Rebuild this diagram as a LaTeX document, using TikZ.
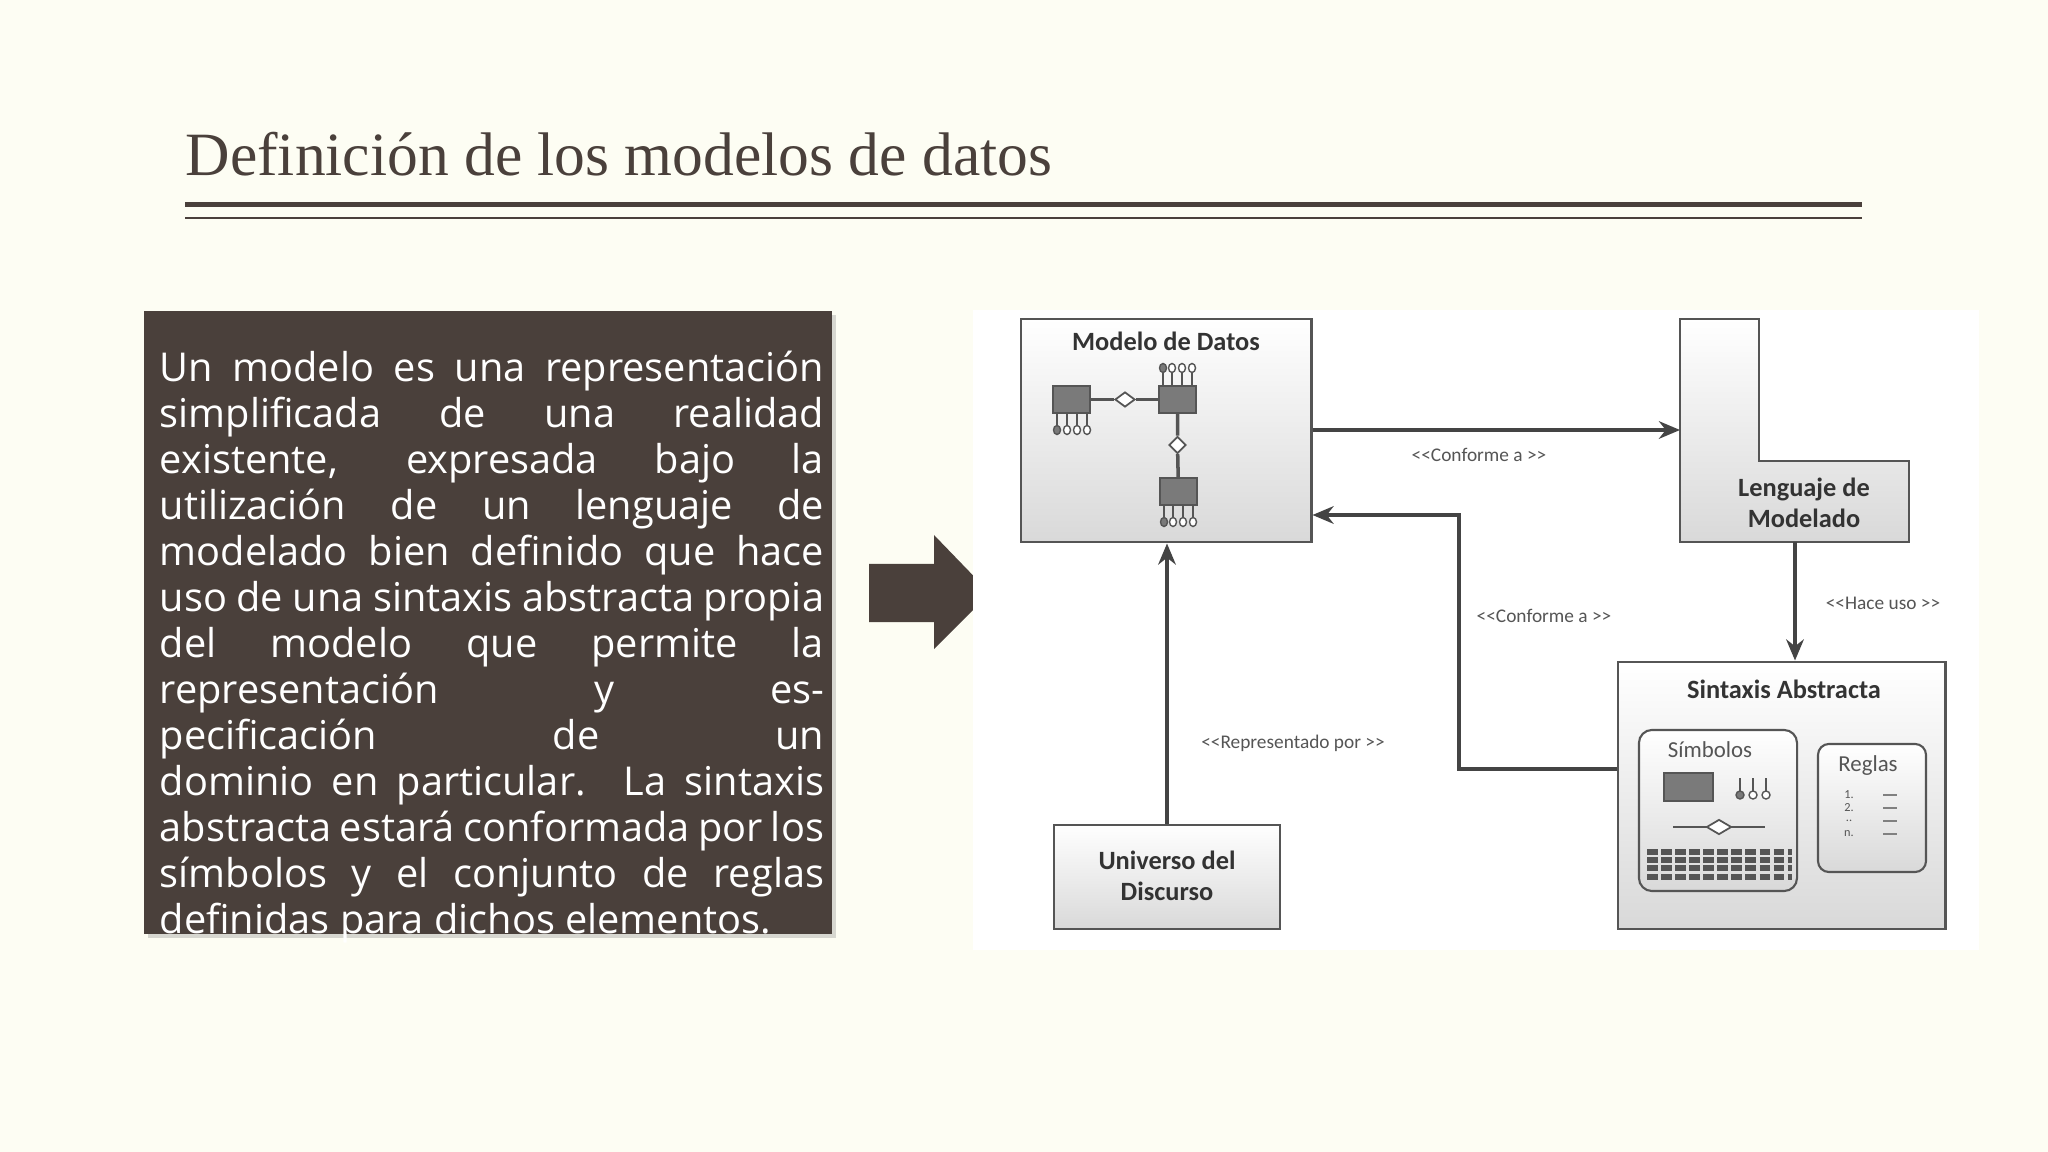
\documentclass[tikz,border=0pt]{standalone}
\usepackage{fontspec}
\setmainfont{Liberation Serif}
\newfontfamily\bodyfont{Open Sans}
\newfontfamily\diafont{Carlito}
\usetikzlibrary{arrows.meta,shadows,shapes.geometric}
\definecolor{cream}{HTML}{FDFDF3}
\definecolor{dark}{HTML}{4A403B}
\definecolor{dgray}{HTML}{555555}
\definecolor{egray}{HTML}{7A7A7A}
\tikzset{
  ent/.style={draw=dgray,fill=egray,line width=0.6pt},
  dia/.style={draw=dgray,fill=white,line width=0.5pt},
  lite/.style={draw=dgray,line width=0.8pt,top color=white,bottom color=gray!30},
  conn/.style={draw=dgray!80!black,line width=1pt,-{Stealth[length=6pt,width=5pt]}},
  lbl/.style={font=\diafont\fontsize{5.5}{6}\selectfont,text=dgray},
  ttl/.style={font=\diafont\bfseries\fontsize{7.5}{9}\selectfont,text=black!80,align=center},
}
\begin{document}
\begin{tikzpicture}[x=0.01cm,y=-0.01cm]
\useasboundingbox (0,0) rectangle (2048,1152);
\fill[cream] (0,0) rectangle (2048,1152);
% title
\node[anchor=west,text=dark,font=\fontsize{17.5}{20}\selectfont,inner sep=0] (title) at (185,154) {Definición de los modelos de datos};
\fill[dark] (185,202) rectangle (1862,207);
\fill[dark] (185,217.5) rectangle (1862,219);
% text box
\fill[dark,drop shadow={shadow xshift=1pt,shadow yshift=-1pt,opacity=0.3}] (144,311) rectangle (832,934);
\node[anchor=north west,text=white,inner sep=0,text width=6.64cm,align=justify,font=\bodyfont\fontsize{11.3}{13.1}\selectfont] (body) at (159,350)
{Un modelo es una representación\linebreak simplificada de una realidad\linebreak existente, expresada bajo la\linebreak utilización de un lenguaje de\linebreak modelado bien definido que hace\linebreak uso de una sintaxis abstracta propia\linebreak del modelo que permite la\linebreak representación y especificación de un\linebreak dominio en particular. La sintaxis\linebreak abstracta estará conformada por los\linebreak símbolos y el conjunto de reglas\linebreak definidas para dichos elementos.\par};
% big arrow
\fill[dark] (869,564) -- (934,564) -- (934,535) -- (990,593) -- (934,649) -- (934,622) -- (869,622) -- cycle;
% diagram background
\fill[white] (973,310) rectangle (1979,950);
% Modelo de Datos
\node[lite,minimum width=2.9cm,minimum height=2.23cm,inner sep=0] (md) at (1166,430.5) {};
\node[ttl] (mdt) at (1166,341) {Modelo de Datos};
\node[ent,minimum width=0.37cm,minimum height=0.27cm,inner sep=0] (e1) at (1071.5,399.5) {};
\node[ent,minimum width=0.37cm,minimum height=0.27cm,inner sep=0] (e2) at (1177.5,399.5) {};
\node[ent,minimum width=0.37cm,minimum height=0.27cm,inner sep=0] (e3) at (1178.5,491.5) {};
\node[dia,diamond,inner sep=0,minimum width=0.2cm,minimum height=0.15cm] (d1) at (1125,399.5) {};
\node[dia,diamond,inner sep=0,minimum width=0.17cm,minimum height=0.17cm] (d2) at (1177.5,445) {};
\draw[dgray,line width=1pt] (e1) -- (d1) -- (e2);
\draw[dgray,line width=1pt] (e2) -- (d2) -- (e3);
\foreach \x [count=\i] in {1163,1172,1182,1192}{
  \ifnum\i=1 \def\fc{egray}\else\def\fc{white}\fi
  \draw[dgray,line width=0.5pt] (\x,386) -- (\x,372);
  \draw[dgray,fill=\fc,line width=0.4pt] (\x,368) ellipse (3.5 and 4.5);
  \draw[dgray,line width=0.5pt] (\x+1,505) -- (\x+1,518);
  \draw[dgray,fill=\fc,line width=0.4pt] (\x+1,522) ellipse (3.5 and 4.5);
}
\foreach \x [count=\i] in {1057,1067,1077,1087}{
  \ifnum\i=1 \def\fc{egray}\else\def\fc{white}\fi
  \draw[dgray,line width=0.5pt] (\x,413) -- (\x,426);
  \draw[dgray,fill=\fc,line width=0.4pt] (\x,430) ellipse (3.5 and 4.5);
}
% Lenguaje de Modelado (L shape)
\path[lite] (1680,319) -- (1759,319) -- (1759,461) -- (1909,461) -- (1909,542) -- (1680,542) -- cycle;
\coordinate (lmw) at (1680,430);
\coordinate (lmb) at (1795,542);
\node[ttl] (lm) at (1804,503) {Lenguaje de\\Modelado};
% Sintaxis Abstracta
\node[lite,minimum width=3.27cm,minimum height=2.67cm,inner sep=0] (sa) at (1781.5,795.5) {};
\node[ttl] (sat) at (1784,689) {Sintaxis Abstracta};
\node[lite,rounded corners=0.13cm,minimum width=1.58cm,minimum height=1.61cm,inner sep=0,line width=0.6pt] (sim) at (1718,810.5) {};
\node[lbl,font=\diafont\fontsize{6.5}{7}\selectfont] (simt) at (1710,750) {Símbolos};
\node[ent,minimum width=0.49cm,minimum height=0.28cm,inner sep=0] (se) at (1688.5,787) {};
\foreach \x [count=\i] in {1740,1753,1766}{
  \ifnum\i=1 \def\fc{egray}\else\def\fc{white}\fi
  \draw[dgray,line width=0.5pt] (\x,778) -- (\x,791);
  \draw[dgray,fill=\fc,line width=0.4pt] (\x,795) circle (4);
}
\draw[dgray,line width=0.8pt] (1673,827) -- (1765,827);
\node[dia,diamond,inner sep=0,minimum width=0.25cm,minimum height=0.15cm] (sd) at (1719,827) {};
\foreach \y in {852,860,868,877}
  \draw[dgray,line width=1.6pt,dash pattern=on 3pt off 1pt] (1647,\y) -- (1792,\y);
\node[lite,rounded corners=0.11cm,minimum width=1.08cm,minimum height=1.28cm,inner sep=0,line width=0.6pt] (reg) at (1872,808) {};
\node[lbl,font=\diafont\fontsize{6.5}{7}\selectfont] (regt) at (1868,766) {Reglas};
\foreach \y/\t in {795/1.,808/2.,821/..,834/n.}{
  \node[font=\diafont\fontsize{3.5}{4}\selectfont,text=dgray,inner sep=0] at (1849,\y) {\t};
  \draw[gray,line width=0.4pt] (1883,\y) -- (1897,\y);
}
% Universo del Discurso
\node[lite,minimum width=2.26cm,minimum height=1.04cm,inner sep=0] (ud) at (1167,877) {};
\node[ttl] (udt) at (1167,876) {Universo del\\Discurso};
% connectors
\draw[conn] (md.east |- lmw) -- (lmw);
\node[lbl] (l1) at (1479,455) {<{}<Conforme a >{}>};
\coordinate (c1) at (1459,769);
\coordinate (c2) at (1459,515);
\draw[conn] (sa.west |- c1) -- (c1) -- (c2) -- (md.east |- c2);
\node[lbl] (l2) at (1544,616) {<{}<Conforme a >{}>};
\draw[conn] (lmb) -- (lmb |- sa.north);
\node[lbl] (l3) at (1883,603) {<{}<Hace uso >{}>};
\draw[conn] (ud.north) -- (ud.north |- md.south);
\node[lbl] (l4) at (1293,743) {<{}<Representado por >{}>};
\end{tikzpicture}
\end{document}
